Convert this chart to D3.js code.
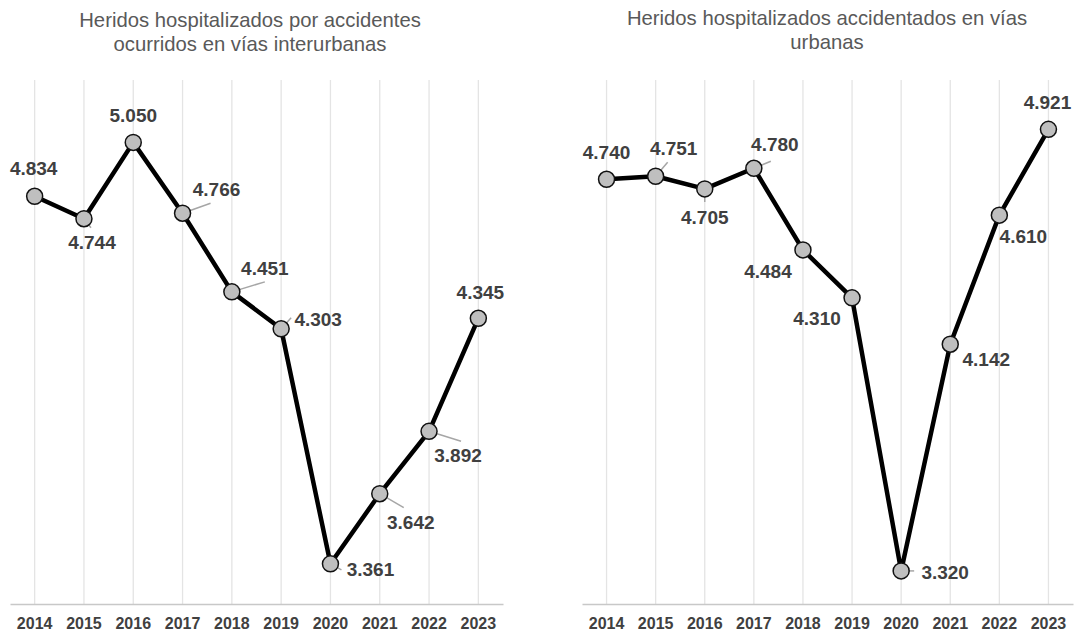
<!DOCTYPE html>
<html>
<head>
<meta charset="utf-8">
<script src="https://cdn.jsdelivr.net/npm/d3@7"></script>
<style>
  body { margin: 0; background: #fff; }
  svg { display: block; font-family: "Liberation Sans", Arial, sans-serif; }
</style>
</head>
<body>
<div id="chart"></div>
<script>
// Data
var years = ["2014", "2015", "2016", "2017", "2018", "2019", "2020", "2021", "2022", "2023"];
var interurbanas = [4.834, 4.744, 5.050, 4.766, 4.451, 4.303, 3.361, 3.642, 3.892, 4.345];
var urbanas = [4.740, 4.751, 4.705, 4.780, 4.484, 4.310, 3.320, 4.142, 4.610, 4.921];
var titleInter = ["Heridos hospitalizados por accidentes", "ocurridos en vías interurbanas"];
var titleUrb = ["Heridos hospitalizados accidentados en vías", "urbanas"];

// Label placement (offsets from each point) and leader line ends
var labelOffInter = [[-1, -21], [8, 30], [0, -20], [34, -17], [33, -17], [37, -3], [40, 12], [31, 35], [29, 31], [2, -19]];
var leaderInter = [null, [7, 9], null, [28, -10], [33, -10], [10, -11], [11, 6], [24, 14], [32, 10], null];
var labelOffUrb = [[0, -20], [18, -21], [0, 35], [21, -17], [-35, 28], [-35, 27], [44, 8], [36, 22], [24, 28], [-1, -20]];
var leaderUrb = [null, [12, -14], [0, 13], [17, -7], null, null, [13, 0], null, null, null];

var svgWidth = 1082;
var svgHeight = 634;
var plotTop = 80;
var plotBottom = 604;

var svg = d3.select("#chart")
  .append("svg")
  .attr("width", svgWidth)
  .attr("height", svgHeight);

function drawPanel(values, title, titleX, titleY, xRange, yDomain, labelOff, leaders) {
  var g = svg.append("g");

  var xScale = d3.scaleBand()
    .domain(years)
    .range(xRange)
    .padding(0);

  var yScale = d3.scaleLinear()
    .domain(yDomain)
    .range([plotBottom, plotTop]);

  var xc = d => xScale(d) + xScale.bandwidth() / 2;

  // vertical gridlines
  g.selectAll(".grid")
    .data(years)
    .enter()
    .append("line")
    .attr("x1", xc)
    .attr("x2", xc)
    .attr("y1", plotTop)
    .attr("y2", plotBottom)
    .attr("stroke", "#e4e4e4")
    .attr("stroke-width", 1.3);

  // bottom axis
  var axis = g.append("g")
    .attr("transform", `translate(0, ${plotBottom})`)
    .call(d3.axisBottom(xScale).tickSize(0).tickSizeOuter(0).tickPadding(14));
  axis.select(".domain").attr("stroke", "#c8c8c8").attr("stroke-width", 1.5);
  axis.selectAll("text")
    .style("font-family", "'Liberation Sans', Arial, sans-serif")
    .style("font-size", "16px")
    .style("font-weight", "bold")
    .attr("fill", "#404040");

  var pts = values.map((v, i) => ({ x: xc(years[i]), y: yScale(v), v: v, i: i }));

  // leader lines
  g.selectAll(".leader")
    .data(pts.filter(d => leaders[d.i]))
    .enter()
    .append("line")
    .attr("x1", d => d.x)
    .attr("y1", d => d.y)
    .attr("x2", d => d.x + leaders[d.i][0])
    .attr("y2", d => d.y + leaders[d.i][1])
    .attr("stroke", "#a6a6a6")
    .attr("stroke-width", 1.5);

  // line
  var line = d3.line()
    .x(d => d.x)
    .y(d => d.y);

  g.append("path")
    .datum(pts)
    .attr("d", line)
    .attr("fill", "none")
    .attr("stroke", "#000")
    .attr("stroke-width", 4.5)
    .attr("stroke-linejoin", "round");

  // markers
  g.selectAll("circle")
    .data(pts)
    .enter()
    .append("circle")
    .attr("cx", d => d.x)
    .attr("cy", d => d.y)
    .attr("r", 8)
    .attr("fill", "#bfbfbf")
    .attr("stroke", "#111")
    .attr("stroke-width", 1.5);

  // data labels
  g.selectAll(".lbl")
    .data(pts)
    .enter()
    .append("text")
    .attr("x", d => d.x + labelOff[d.i][0])
    .attr("y", d => d.y + labelOff[d.i][1])
    .attr("text-anchor", "middle")
    .style("font-size", "19px")
    .style("font-weight", "bold")
    .attr("fill", "#404040")
    .text(d => d3.format(".3f")(d.v));

  // title
  g.append("text")
    .attr("text-anchor", "middle")
    .style("font-size", "20.3px")
    .attr("fill", "#595959")
    .selectAll("tspan")
    .data(title)
    .enter()
    .append("tspan")
    .attr("x", titleX)
    .attr("y", (d, i) => titleY + i * 23.5)
    .text(d => d);
}

drawPanel(interurbanas, titleInter, 250, 27, [10, 503], [3.2, 5.3], labelOffInter, leaderInter);
drawPanel(urbanas, titleUrb, 827, 25, [582, 1073], [3.2, 5.1], labelOffUrb, leaderUrb);
</script>
</body>
</html>
